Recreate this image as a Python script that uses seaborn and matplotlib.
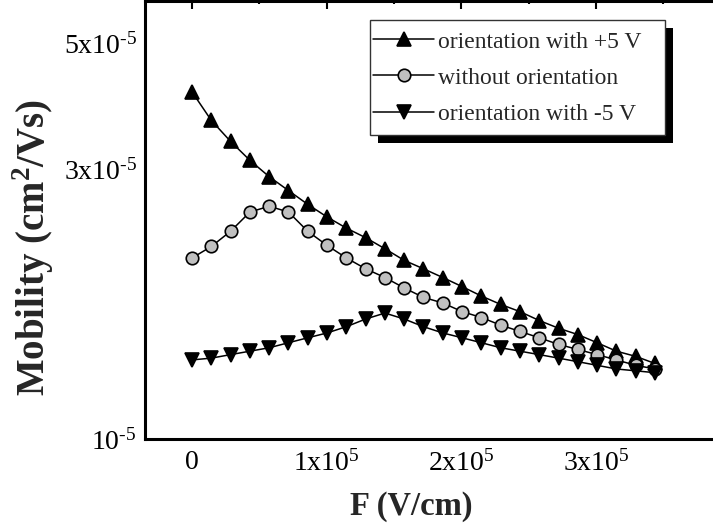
import numpy as np
import pandas as pd
import matplotlib
matplotlib.use('Agg')
import matplotlib.pyplot as plt
import matplotlib.ticker as mticker
from matplotlib.patches import Rectangle
import seaborn as sns

# electric field (units of 1e5 V/cm)
field = [0.000, 0.143, 0.286, 0.430, 0.573, 0.716, 0.859, 1.002, 1.146, 1.289,
         1.432, 1.575, 1.718, 1.862, 2.005, 2.148, 2.291, 2.434, 2.578, 2.721,
         2.864, 3.007, 3.150, 3.294, 3.437]

# mobility (units of 1e-5 cm^2/Vs)
mob_plus5 = [4.11, 3.66, 3.36, 3.11, 2.91, 2.75, 2.60, 2.47, 2.36, 2.27,
             2.17, 2.07, 2.00, 1.93, 1.86, 1.79, 1.73, 1.68, 1.62, 1.57,
             1.53, 1.48, 1.43, 1.40, 1.36]
mob_none = [2.09, 2.19, 2.33, 2.52, 2.58, 2.52, 2.33, 2.20, 2.09, 2.00,
            1.93, 1.85, 1.78, 1.74, 1.68, 1.64, 1.59, 1.55, 1.51, 1.47,
            1.44, 1.41, 1.38, 1.35, 1.33]
mob_minus5 = [1.38, 1.39, 1.41, 1.43, 1.45, 1.48, 1.51, 1.54, 1.58, 1.63,
              1.67, 1.63, 1.58, 1.54, 1.51, 1.48, 1.45, 1.43, 1.41, 1.39,
              1.37, 1.35, 1.33, 1.32, 1.31]

labels = ['orientation with +5 V', 'without orientation', 'orientation with -5 V']

F = np.array(field) * 1e5

sns.set_style('white')
plt.rcParams['font.family'] = ['Liberation Serif', 'DejaVu Serif']
plt.rcParams['mathtext.fontset'] = 'custom'
plt.rcParams['mathtext.rm'] = 'Liberation Serif'
plt.rcParams['mathtext.bf'] = 'Liberation Serif:bold'

fig = plt.figure(figsize=(7.13, 5.26), dpi=100)
ax = fig.add_axes([0.2034, 0.1654, 0.8216, 0.8326])

common = dict(color='black', linewidth=1.1, markeredgecolor='black',
              markeredgewidth=1.2, ax=ax)
sns.lineplot(x=F, y=np.array(mob_plus5) * 1e-5, marker='^', markersize=10,
             markerfacecolor='black', label=labels[0], **common)
sns.lineplot(x=F, y=np.array(mob_none) * 1e-5, marker='o', markersize=9,
             markerfacecolor='#c0c0c0', label=labels[1], **common)
sns.lineplot(x=F, y=np.array(mob_minus5) * 1e-5, marker='v', markersize=10,
             markerfacecolor='black', label=labels[2], **common)

ax.set_yscale('log')
ax.set_xlim(-0.349e5, 4.0e5)
ax.set_ylim(1e-5, 5.95e-5)

hy = '\u2010'
ax.xaxis.set_major_locator(mticker.FixedLocator([0, 1e5, 2e5, 3e5]))
ax.xaxis.set_major_formatter(mticker.FixedFormatter(
    ['0', r'$\mathregular{1x10^{5}}$', r'$\mathregular{2x10^{5}}$', r'$\mathregular{3x10^{5}}$']))
ax.xaxis.set_minor_locator(mticker.MultipleLocator(0.5e5))

ax.yaxis.set_major_locator(mticker.FixedLocator([1e-5, 3e-5, 5e-5]))
ax.yaxis.set_major_formatter(mticker.FixedFormatter(
    ['$\\mathregular{10^{%s5}}$' % hy, '$\\mathregular{3x10^{%s5}}$' % hy,
     '$\\mathregular{5x10^{%s5}}$' % hy]))
yminor = [v * 1e-5 for v in [1.222, 1.444, 1.667, 1.889, 2.111, 2.333, 2.556, 2.778,
                              3.222, 3.444, 3.667, 3.889, 4.111, 4.333, 4.556, 4.778,
                              5.222, 5.444, 5.667, 5.889]]
ax.yaxis.set_minor_locator(mticker.FixedLocator(yminor))
ax.yaxis.set_minor_formatter(mticker.NullFormatter())

ax.tick_params(which='both', direction='in', top=True, right=True, width=1.5,
               labelsize=20, colors='black')
ax.tick_params(which='major', length=6)
ax.tick_params(which='minor', length=2.5)
ax.tick_params(axis='x', pad=8)
ax.tick_params(axis='y', pad=6)

for s in ax.spines.values():
    s.set_linewidth(2.2)
    s.set_color('black')

ax.set_xlabel('F (V/cm)', fontsize=23.5, fontweight='bold')
ax.xaxis.set_label_coords((411 - 145) / 585.8, -0.118)
ax.set_ylabel(r'Mobility (cm$^\mathbf{2}$/Vs)', fontsize=28, fontweight='bold')
ax.yaxis.set_label_coords(-0.152, 0.438)

leg = ax.legend(loc='upper left', bbox_to_anchor=(0.389, 0.9315), frameon=False,
                fontsize=17, handlelength=2.6, handletextpad=0.15,
                borderpad=0, labelspacing=0.62, borderaxespad=0)

fig.canvas.draw()
bb = leg.get_window_extent()
x0, y0 = bb.x0 - 3, bb.y0 - 10
w, h = bb.width + 3 + 24, bb.height + 10 + 11
ax.add_patch(Rectangle((x0 + 8, y0 - 8), w, h, transform=None,
                       facecolor='black', edgecolor='none', zorder=4.4, clip_on=False))
ax.add_patch(Rectangle((x0, y0), w, h, transform=None, facecolor='white',
                       edgecolor='#333333', linewidth=1.0, zorder=4.5, clip_on=False))

fig.savefig('out.png', dpi=100)
